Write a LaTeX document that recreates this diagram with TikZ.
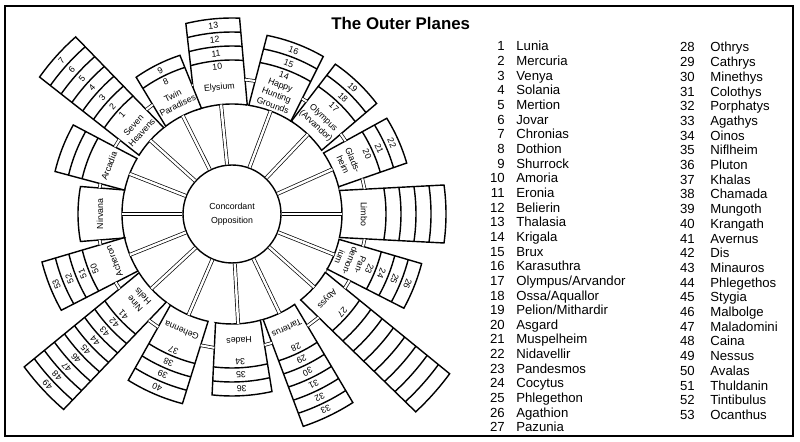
\documentclass[tikz,border=0pt]{standalone}
\usepackage{fontspec}
\setmainfont{Liberation Sans}

\tikzset{
  plane/.style={draw, line width=0.8pt, fill=white},
  layer/.style={line width=0.8pt},
  spoke/.style={double, double distance=1.4pt, line width=0.4pt},
  bridge/.style={double, double distance=1.2pt, line width=0.4pt},
  tag/.style={font=\fontsize{5}{6.2}\selectfont, inner sep=0pt, align=center},
  entry/.style={font=\fontsize{7.5}{9}\selectfont, inner sep=0pt},
}

% #1 id, #2 angle, #3 inner width, #4 outer width, #5 layers,
% #6 layer depth, #7 body number (0 = none), #8 name, #9 numbered layers (1/0)
\newcommand{\outerplane}[9]{%
  \begin{scope}[rotate=#2]
    \pgfmathsetmacro\pRo{154+#6*#5}
    \pgfmathsetmacro\pAi{asin(#3/220)}
    \pgfmathsetmacro\pAo{asin(#4/(2*\pRo))}
    \pgfmathsetmacro\pH{#3/2+(#4-#3)/2*25/(\pRo-110)}
    \pgfmathsetmacro\pAb{asin(\pH/135)}
    \coordinate (#1-in) at (0:110);
    \coordinate (#1-ccw) at (\pAb:135);
    \coordinate (#1-cw) at (-\pAb:135);
    \draw[plane] (-\pAi:110) -- (-\pAo:\pRo)
      arc[start angle=-\pAo, end angle=\pAo, radius=\pRo] -- (\pAi:110)
      arc[start angle=\pAi, end angle=-\pAi, radius=110] -- cycle;
    \ifnum#5>0
      \begin{scope}
        \clip (-\pAi:110) -- (-\pAo:\pRo)
          arc[start angle=-\pAo, end angle=\pAo, radius=\pRo] -- (\pAi:110)
          arc[start angle=\pAi, end angle=-\pAi, radius=110] -- cycle;
        \foreach \k in {1,...,#5}{
          \pgfmathsetmacro\pR{154+#6*(\k-1)}
          \draw[layer] (-30:\pR) arc[start angle=-30, end angle=30, radius=\pR];
        }
      \end{scope}
      \ifnum#9>0
        \foreach \k in {1,...,#5}{
          \pgfmathtruncatemacro\pN{#7+\k}
          \node[tag, rotate=#2-90] (#1-\k) at (0:{154+#6*(\k-0.5)}) {\pN};
        }
      \fi
    \fi
    \ifnum#7>0
      \node[tag, rotate=#2-90] (#1-num) at (0:148) {#7};
      \node[tag, rotate=#2-90] (#1-name) at (0:127) {#8};
    \else
      \node[tag, rotate=#2-90] (#1-name) at (0:132) {#8};
    \fi
  \end{scope}}

\begin{document}
\begin{tikzpicture}[x=0.02cm, y=0.02cm]
\useasboundingbox (0,0) rectangle (800,442);
\draw[line width=0.8pt] (5,6) rectangle (793,436);

\node[anchor=base west, inner sep=0pt, font=\bfseries\fontsize{9.6}{11}\selectfont] (title) at (331,412) {The Outer Planes};

\begin{scope}[shift={(232,228)}]
  \node[draw, circle, line width=0.8pt, minimum size=1.96cm, tag] (co) at (0,0) {Concordant\\[2pt]Opposition};

  % planes, counter-clockwise from Limbo
  \outerplane{limbo}{0}{47}{58}{4}{15}{0}{Limbo}{0}
  \outerplane{gladsheim}{24}{37}{49}{2}{14}{20}{Glads-\\heim}{1}
  \outerplane{olympus}{46.4}{42}{57}{2}{14}{17}{Olympus\\(Arvandor)}{1}
  \outerplane{hunting}{69.4}{45}{60}{2}{14}{14}{Happy\\Hunting\\Grounds}{1}
  \outerplane{elysium}{95.7}{52}{54}{3}{14}{10}{Elysium}{1}
  \outerplane{twin}{116.6}{40}{49}{1}{13}{8}{Twin\\Paradises}{1}
  \outerplane{seven}{138}{37}{54}{6}{13.7}{1}{Seven\\Heavens}{1}
  \outerplane{arcadia}{158.6}{34}{50}{2}{14}{0}{Arcadia}{0}
  \outerplane{nirvana}{180}{48}{55}{0}{14}{0}{Nirvana}{0}
  \outerplane{acheron}{201.8}{36}{52}{3}{14}{50}{Acheron}{1}
  \outerplane{ninehells}{222.8}{40}{58}{8}{13}{41}{Nine\\Hells}{1}
  \outerplane{gehenna}{246.7}{41}{59}{3}{14}{37}{Gehenna}{1}
  \outerplane{hades}{273.2}{45}{60}{2}{14}{34}{Hades}{1}
  \outerplane{tarterus}{295.6}{35}{55}{5}{14}{28}{Tarterus}{1}
  \outerplane{abyss}{318.3}{37}{51}{8}{14.5}{27}{Abyss}{0}
  \outerplane{pandemonium}{338.3}{32}{48}{3}{14}{23}{Pan-\\demon-\\ium}{1}
\end{scope}

% spokes to the hub
\foreach \p in {limbo,gladsheim,olympus,hunting,elysium,twin,seven,arcadia,
                nirvana,acheron,ninehells,gehenna,hades,tarterus,abyss,pandemonium}
  \draw[spoke] (\p-in) -- (co);

% links between neighbouring planes
\foreach \a/\b in {limbo/gladsheim,gladsheim/olympus,olympus/hunting,hunting/elysium,
                   elysium/twin,twin/seven,seven/arcadia,arcadia/nirvana,nirvana/acheron,
                   acheron/ninehells,ninehells/gehenna,gehenna/hades,hades/tarterus,
                   tarterus/abyss,abyss/pandemonium,pandemonium/limbo}
  \draw[bridge] (\a-ccw) -- (\b-cw);

% key to the layers
\foreach \nm [count=\i] in {Lunia,Mercuria,Venya,Solania,Mertion,Jovar,Chronias,Dothion,
    Shurrock,Amoria,Eronia,Belierin,Thalasia,Krigala,Brux,Karasuthra,Olympus/Arvandor,
    Ossa/Aquallor,Pelion/Mithardir,Asgard,Muspelheim,Nidavellir,Pandesmos,Cocytus,
    Phlegethon,Agathion,Pazunia}
{
  \node[entry, anchor=base east] (num-\i) at (505,{391-14.65*(\i-1)}) {\i};
  \node[entry, anchor=base west] (key-\i) at (516,{391-14.65*(\i-1)}) {\nm};
}
\foreach \nm [count=\i from 28] in {Othrys,Cathrys,Minethys,Colothys,Porphatys,Agathys,
    Oinos,Niflheim,Pluton,Khalas,Chamada,Mungoth,Krangath,Avernus,Dis,Minauros,
    Phlegethos,Stygia,Malbolge,Maladomini,Caina,Nessus,Avalas,Thuldanin,Tintibulus,Ocanthus}
{
  \node[entry, anchor=base east] (num-\i) at (695,{390-14.7*(\i-28)}) {\i};
  \node[entry, anchor=base west] (key-\i) at (710,{390-14.7*(\i-28)}) {\nm};
}
\end{tikzpicture}
\end{document}
